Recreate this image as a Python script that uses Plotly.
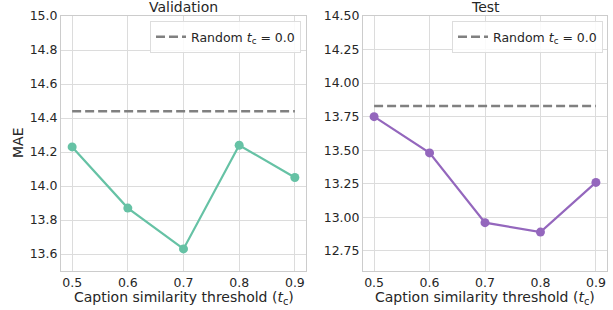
import plotly.graph_objects as go

thresholds = [0.5, 0.6, 0.7, 0.8, 0.9]
val_mae = [14.23, 13.87, 13.63, 14.24, 14.05]
test_mae = [13.75, 13.48, 12.96, 12.89, 13.26]
random_val = 14.44
random_test = 13.83
x_ticks = [0.5, 0.6, 0.7, 0.8, 0.9]
val_yticks = [13.6, 13.8, 14.0, 14.2, 14.4, 14.6, 14.8, 15.0]
test_yticks = [12.75, 13.0, 13.25, 13.5, 13.75, 14.0, 14.25, 14.5]

FONT = "DejaVu Sans"
TXT = "#262626"
GRID = "#dcdcdc"
LINE = "#cccccc"
GREEN = "#66c2a5"
PURPLE = "#9467bd"
GRAY = "#808080"
legend_label = "Random <i>t</i><sub>c</sub> = 0.0"

fig = go.Figure()

# Validation
fig.add_trace(go.Scatter(x=[0.5, 0.9], y=[random_val, random_val], mode="lines",
                         line=dict(color=GRAY, width=2.5, dash="9px,4px"),
                         name=legend_label, legend="legend", xaxis="x", yaxis="y"))
fig.add_trace(go.Scatter(x=thresholds, y=val_mae, mode="lines+markers",
                         line=dict(color=GREEN, width=2.2),
                         marker=dict(color=GREEN, size=9),
                         showlegend=False, xaxis="x", yaxis="y"))
# Test
fig.add_trace(go.Scatter(x=[0.5, 0.9], y=[random_test, random_test], mode="lines",
                         line=dict(color=GRAY, width=2.5, dash="9px,4px"),
                         name=legend_label, legend="legend2", xaxis="x2", yaxis="y2"))
fig.add_trace(go.Scatter(x=thresholds, y=test_mae, mode="lines+markers",
                         line=dict(color=PURPLE, width=2.2),
                         marker=dict(color=PURPLE, size=9),
                         showlegend=False, xaxis="x2", yaxis="y2"))

W, H = 613, 310
ydom = [(H - 271) / H, (H - 16) / H]

def xax(dom, anchor):
    return dict(domain=dom, anchor=anchor, range=[0.48, 0.92], tickvals=x_ticks,
                ticktext=[f"{v:.1f}" for v in x_ticks], showgrid=True, gridcolor=GRID,
                gridwidth=1, showline=True, linecolor=LINE, linewidth=1, mirror=True,
                zeroline=False, ticks="", tickfont=dict(family=FONT, size=12.5, color=TXT),
                automargin=False)

def yax(dom, anchor, rng, ticks, fmt):
    return dict(domain=dom, anchor=anchor, range=rng, tickvals=ticks,
                ticktext=[fmt.format(v) for v in ticks], showgrid=True, gridcolor=GRID,
                gridwidth=1, showline=True, linecolor=LINE, linewidth=1, mirror=True,
                zeroline=False, ticks="", tickfont=dict(family=FONT, size=12.5, color=TXT),
                automargin=False)

x1 = [61 / W, 306 / W]
x2 = [363 / W, 607 / W]

leg_common = dict(bgcolor="rgba(255,255,255,0.85)", bordercolor="#dddddd", borderwidth=1,
                  font=dict(family=FONT, size=12.5, color=TXT), xanchor="right", yanchor="top",
                  itemwidth=30, tracegroupgap=0)

def ann(text, x, y, size=14, angle=0):
    return dict(text=text, x=x, y=y, xref="paper", yref="paper", showarrow=False,
                textangle=angle, font=dict(family=FONT, size=size, color=TXT),
                xanchor="center", yanchor="middle")

xlabel = "Caption similarity threshold (<i>t</i><sub>c</sub>)"

fig.update_layout(
    width=W, height=H, margin=dict(l=0, r=0, t=0, b=0),
    paper_bgcolor="white", plot_bgcolor="white",
    xaxis=xax(x1, "y"), yaxis=yax(ydom, "x", [13.5, 15.0], val_yticks, "{:.1f}"),
    xaxis2=xax(x2, "y2"), yaxis2=yax(ydom, "x2", [12.6, 14.5], test_yticks, "{:.2f}"),
    legend=dict(x=301 / W, y=1 - 21 / H, **leg_common),
    legend2=dict(x=603 / W, y=1 - 21 / H, **leg_common),
    annotations=[
        ann("Validation", (x1[0] + x1[1]) / 2, 1 - 7 / H),
        ann("Test", (x2[0] + x2[1]) / 2, 1 - 7 / H),
        ann(xlabel, (x1[0] + x1[1]) / 2, 1 - 298 / H),
        ann(xlabel, (x2[0] + x2[1]) / 2, 1 - 298 / H),
        ann("MAE", 18 / W, 1 - 143 / H, angle=-90),
    ],
)

fig.write_html("out.html", config={"displayModeBar": False})
with open("out.html", "r", encoding="utf-8") as f:
    html = f.read()
html = html.replace("<body>", '<body style="margin:0;padding:0;overflow:hidden">', 1)
with open("out.html", "w", encoding="utf-8") as f:
    f.write(html)
